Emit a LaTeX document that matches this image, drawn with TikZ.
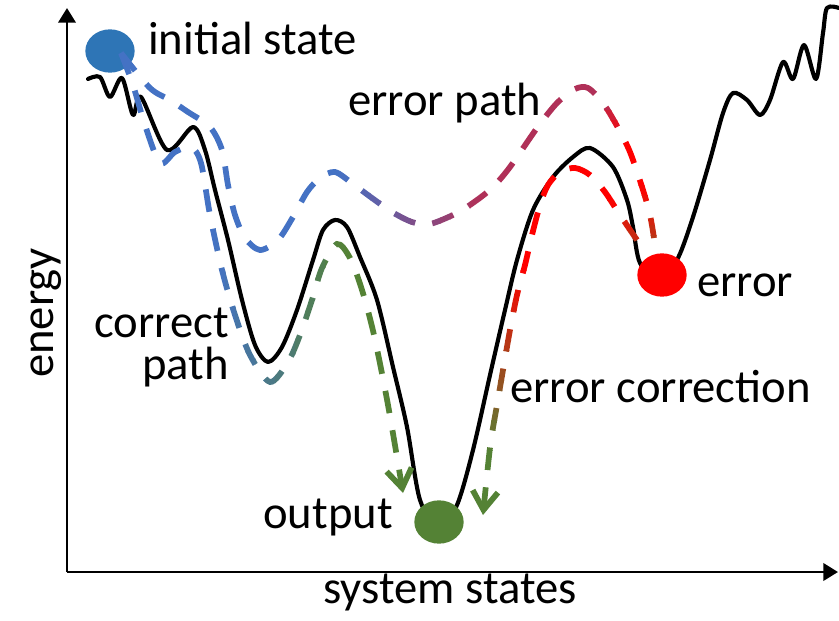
\documentclass[tikz,border=0pt]{standalone}
\usepackage{fontspec}
\setmainfont{Carlito}
\usetikzlibrary{shapes.geometric,arrows.meta}

\definecolor{ballblue}{HTML}{2E75B6}
\definecolor{routeblue}{HTML}{4472C4}
\definecolor{routegreen}{HTML}{548235}
\definecolor{routecrimson}{HTML}{B03058}
\definecolor{routered}{HTML}{FF0000}
\colorlet{routebrown}{routered!55!routegreen}

% the three dashed routes across the landscape
\newcommand\correctroute[1]{\draw[route,#1,-{Straight Barb[length=14pt,width=19pt]}]
  plot[smooth,tension=0.5] coordinates {(s1) (133,85) (145,125) (160,163) (175,152) (191,147)
  (201,163) (210,215) (222,270) (235,315) (250,355) (270,382) (288,362) (300,335) (312,300)
  (322,268) (337,244) (350,258) (362,290) (374,335) (388,405) (403,493)};}
\newcommand\errorroute[1]{\draw[route,#1]
  plot[smooth,tension=0.5] coordinates {(s1) (150,88) (170,100) (188,112) (210,127) (222,150)
  (228,185) (235,215) (245,238) (260,250) (278,240) (293,217) (307,192) (320,178) (335,172)
  (353,184) (372,198) (392,212) (412,222) (430,224) (457,213) (477,200) (493,187) (510,167)
  (537,128) (557,103) (575,89) (588,88) (603,103) (617,126) (630,152) (643,190) (650,215) (e1)};}
\newcommand\fixroute[1]{\draw[route,#1,-{Straight Barb[length=14pt,width=19pt]}]
  plot[smooth,tension=0.5] coordinates {(f0) (620,215) (605,192) (590,175) (575,168) (560,172)
  (548,185) (540,205) (532,235) (525,265) (517,295) (510,330) (503,370) (497,405) (491,440)
  (487,475) (483,515)};}
% one coloured slice of a route, clipped to a rectangle
\newcommand\stripe[6]{\begin{scope}\clip (#2,#3) rectangle (#4,#5);#1{draw=#6}\end{scope}}

\begin{document}
\begin{tikzpicture}[x=0.75pt,y=-0.75pt,
  lbl/.style={font=\fontsize{35}{42}\selectfont, inner sep=0pt},
  ball/.style={ellipse, inner sep=0pt, minimum width=37pt, minimum height=32.5pt},
  landscape/.style={line width=3.1pt, line join=round, line cap=round},
  route/.style={line width=4.3pt, dash pattern=on 17pt off 13pt},
  axis/.style={line width=2.1pt, -{Triangle[length=11pt,width=13pt]}}]
\useasboundingbox (0,0) rectangle (839,621);

% axes
\coordinate (O) at (67,572);
\coordinate (ytop) at (67,8);
\coordinate (xend) at (838,572);
\draw[axis] (O) -- (ytop);
\draw[axis] (O) -- (xend);

% energy landscape
\draw[landscape] plot[smooth,tension=0.5] coordinates {(88,79) (100,77) (110,97) (122,78)
  (133,115) (141,97) (167,150) (193,127) (205,150) (215,190) (228,240) (242,300) (255,345)
  (268,362) (282,347) (297,310) (313,260) (323,230) (335,220) (347,227) (360,257) (377,300)
  (393,367) (407,427) (420,500) (439,528) (457,505) (473,450) (490,375) (505,310) (517,260)
  (533,210) (553,177) (573,157) (590,148) (613,167) (627,200) (633,227) (640,263) (660,282)
  (678,258) (693,217) (710,160) (723,113) (733,93) (747,100) (760,115) (770,100) (783,62)
  (793,79) (804,45) (816,79) (823,33) (827,8) (839,8)};

% states
\node[ball, fill=ballblue] (init) at (110,51) {};
\node[ball, fill=routegreen] (out) at (439,522) {};
\node[ball, fill=routered] (err) at (662,275) {};

\coordinate (s1) at (121,53);
\coordinate (e1) at (654,238);
\coordinate (f0) at (637,240);

% correct path: blue to green
\stripe{\correctroute}{0}{0}{215.5}{621}{routeblue}
\foreach \k in {0,...,12}{\pgfmathtruncatemacro\pc{100-100*(\k+0.5)/13}
  \stripe{\correctroute}{215+10*\k}{0}{225.5+10*\k}{621}{routeblue!\pc!routegreen}}
\stripe{\correctroute}{345}{0}{839}{621}{routegreen}

% error path: blue to crimson, then red and brown on the way down
\stripe{\errorroute}{0}{0}{340.5}{621}{routeblue}
\foreach \k in {0,...,13}{\pgfmathtruncatemacro\pc{100-100*(\k+0.5)/14}
  \stripe{\errorroute}{340+10*\k}{0}{350.5+10*\k}{621}{routeblue!\pc!routecrimson}}
\stripe{\errorroute}{480}{0}{598.5}{621}{routecrimson}
\stripe{\errorroute}{598}{0}{839}{100.5}{routecrimson}
\foreach \k in {0,...,3}{\pgfmathtruncatemacro\pc{100-100*(\k+0.5)/4}
  \stripe{\errorroute}{598}{100+10*\k}{839}{110.5+10*\k}{routecrimson!\pc!routered}}
\stripe{\errorroute}{598}{140}{839}{185.5}{routered}
\foreach \k in {0,...,5}{\pgfmathtruncatemacro\pc{100-100*(\k+0.5)/6}
  \stripe{\errorroute}{598}{185+10*\k}{839}{195.5+10*\k}{routered!\pc!routebrown}}
\stripe{\errorroute}{598}{245}{839}{621}{routebrown}

% error correction: brown and red near the error, red to green down to the output
\stripe{\fixroute}{580}{0}{839}{200.5}{routered}
\foreach \k in {0,...,4}{\pgfmathtruncatemacro\pc{100-100*(\k+0.5)/5}
  \stripe{\fixroute}{580}{200+10*\k}{839}{210.5+10*\k}{routered!\pc!routebrown}}
\stripe{\fixroute}{580}{250}{839}{621}{routebrown}
\stripe{\fixroute}{0}{0}{580.5}{270.5}{routered}
\foreach \k in {0,...,17}{\pgfmathtruncatemacro\pc{100-100*(\k+0.5)/18}
  \stripe{\fixroute}{0}{270+10*\k}{580.5}{280.5+10*\k}{routered!\pc!routegreen}}
\stripe{\fixroute}{0}{450}{580.5}{621}{routegreen}

% labels
\node[lbl, anchor=base west] (tinit) at (148,54) {initial state};
\node[lbl, anchor=base west] (tep) at (348,115) {error path};
\node[lbl, align=right, anchor=base east, font=\fontsize{35}{31.5}\selectfont] (tcor) at (229,379) {correct\\path};
\node[lbl, anchor=base west] (tfix) at (510,402) {error correction};
\node[lbl, anchor=base west] (terr) at (697,296) {error};
\node[lbl, anchor=base east] (tout) at (393,528) {output};
\node[lbl, anchor=base] (tx) at (450,603) {system states};
\node[lbl, anchor=base, rotate=90] (ty) at (53,313) {energy};
\end{tikzpicture}
\end{document}
